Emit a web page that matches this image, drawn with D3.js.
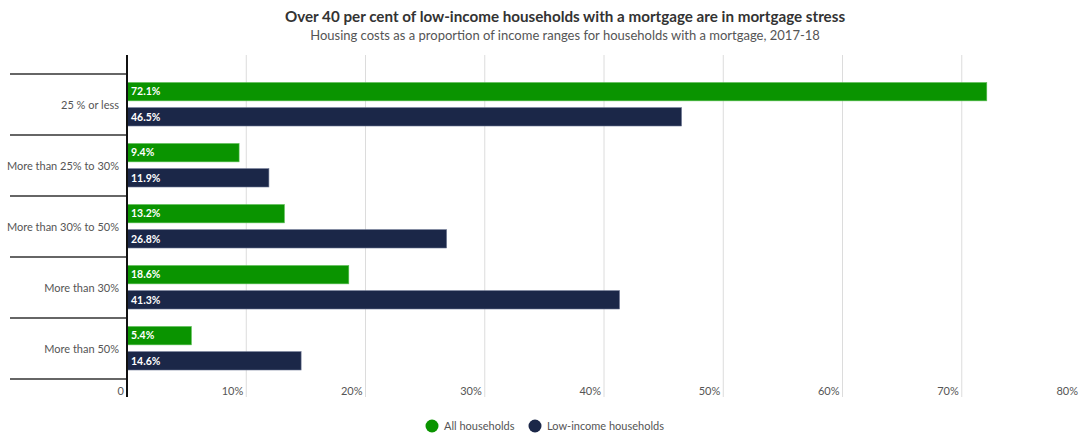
<!DOCTYPE html>
<html><head><meta charset="utf-8">
<script src="https://cdn.jsdelivr.net/npm/d3@7"></script>
<style>body{margin:0;background:#fff;} svg{display:block;font-family:Lato,"Open Sans",sans-serif;}</style>
</head><body>
<svg id="c" width="1080" height="440"></svg>
<script>
const categories = ["25 % or less","More than 25% to 30%","More than 30% to 50%","More than 30%","More than 50%"];
const seriesNames = ["All households","Low-income households"];
const allHouseholds = [72.1, 9.4, 13.2, 18.6, 5.4];
const lowIncome = [46.5, 11.9, 26.8, 41.3, 14.6];
const xTicks = [0,10,20,30,40,50,60,70,80];
const colors = ["#0a9400","#1b2748"];

const svg = d3.select("#c");
const x = d3.scaleLinear().domain([0,80]).range([127,1081]);
const y = d3.scaleBand().domain(categories).range([74,379]);
const inner = d3.scaleBand().domain(seriesNames).range([8.5, y.bandwidth()-9]).paddingInner(0.27);

svg.append("text").attr("x",565).attr("y",22).attr("text-anchor","middle")
  .attr("font-size",15.2).attr("font-weight",700).attr("fill","#333")
  .text("Over 40 per cent of low-income households with a mortgage are in mortgage stress");
svg.append("text").attr("x",565).attr("y",40).attr("text-anchor","middle")
  .attr("font-size",13).attr("fill","#555")
  .text("Housing costs as a proportion of income ranges for households with a mortgage, 2017-18");

svg.append("g").selectAll("line").data(xTicks.slice(1)).join("line")
  .attr("x1",d=>x(d)).attr("x2",d=>x(d)).attr("y1",55).attr("y2",397)
  .attr("stroke","#dcdcdc").attr("stroke-width",1);

svg.append("g").selectAll("text").data(xTicks).join("text")
  .attr("x",d=>x(d)-3).attr("y",395).attr("text-anchor","end")
  .attr("font-size",11).attr("fill","#555")
  .text(d=>d===0?"0":d+"%");

const bounds = categories.map(c=>y(c)).concat([y(categories[categories.length-1])+y.bandwidth()]);
svg.append("g").selectAll("line").data(bounds).join("line")
  .attr("x1",10).attr("x2",127).attr("y1",d=>d).attr("y2",d=>d)
  .attr("stroke","#333").attr("stroke-width",1.3);

svg.append("g").selectAll("text").data(categories).join("text")
  .attr("x",119).attr("y",d=>y(d)+y.bandwidth()/2+4).attr("text-anchor","end")
  .attr("font-size",11).attr("fill","#555").text(d=>d);

const data = [];
categories.forEach((c,i)=>{
  data.push({c, s:seriesNames[0], v:allHouseholds[i], col:colors[0]});
  data.push({c, s:seriesNames[1], v:lowIncome[i], col:colors[1]});
});
const g = svg.append("g");
g.selectAll("rect").data(data).join("rect")
  .attr("x",x(0)).attr("y",d=>y(d.c)+inner(d.s)).attr("width",d=>x(d.v)-x(0))
  .attr("height",inner.bandwidth()).attr("fill",d=>d.col)
  .attr("stroke",d=>d.s===seriesNames[0]?"#5cbf55":"#6a7390").attr("stroke-width",0.6);
g.selectAll("text").data(data).join("text")
  .attr("x",x(0)+4).attr("y",d=>y(d.c)+inner(d.s)+inner.bandwidth()/2+3.8)
  .attr("font-size",10.5).attr("font-weight",700).attr("fill","#fff")
  .text(d=>d.v.toFixed(1)+"%");

svg.append("line").attr("x1",127).attr("x2",127).attr("y1",55).attr("y2",397)
  .attr("stroke","#111").attr("stroke-width",2);

const leg = svg.append("g");
const lx = [432, 535];
seriesNames.forEach((s,i)=>{
  leg.append("circle").attr("cx",lx[i]).attr("cy",426).attr("r",6.5).attr("fill",colors[i]);
  leg.append("text").attr("x",lx[i]+12).attr("y",429.5).attr("font-size",11).attr("fill","#555").text(s);
});
</script>
</body></html>
